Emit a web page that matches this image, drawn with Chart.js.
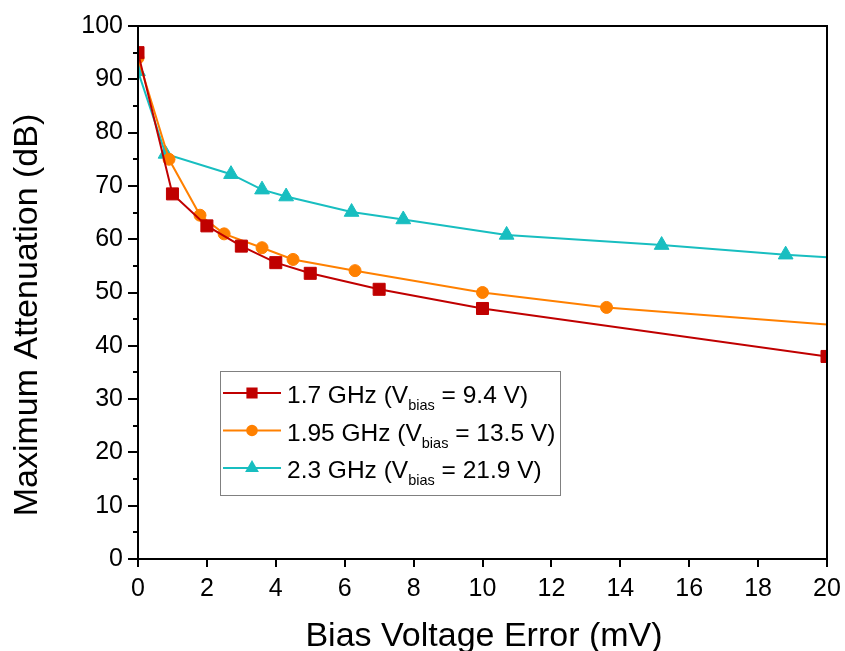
<!DOCTYPE html>
<html>
<head>
<meta charset="utf-8">
<script src="https://cdn.jsdelivr.net/npm/chart.js@4/dist/chart.umd.min.js"></script>
<style>
  html, body { margin: 0; padding: 0; background: #fff; }
</style>
</head>
<body>
<canvas id="graphCanvas" width="845" height="651"></canvas>
<script>
// 1.7 GHz (Vbias = 9.4 V)
const x17 = [0, 1, 2, 3, 4, 5, 7, 10, 20];
const y17 = [95, 68.5, 62.5, 58.7, 55.6, 53.6, 50.6, 47, 38];
// 1.95 GHz (Vbias = 13.5 V)
const x195 = [0, 0.9, 1.8, 2.5, 3.6, 4.5, 6.3, 10, 13.6, 20];
const y195 = [94, 75, 64.5, 61, 58.4, 56.2, 54.1, 50, 47.2, 44];
// 2.3 GHz (Vbias = 21.9 V)
const x23 = [0, 0.8, 2.7, 3.6, 4.3, 6.2, 7.7, 10.7, 15.2, 18.8, 20];
const y23 = [91.5, 76, 72.2, 69.3, 68, 65.1, 63.7, 60.8, 58.9, 57.1, 56.6];

const seriesNames = ["1.7 GHz (V", "1.95 GHz (V", "2.3 GHz (V"];
const biasVolts = ["9.4", "13.5", "21.9"];
const xTitle = "Bias Voltage Error (mV)";
const yTitle = "Maximum Attenuation (dB)";

const FONT = '"Liberation Sans", Arial, sans-serif';

function toPoints(xs, ys) {
  return xs.map((x, i) => ({ x: x, y: ys[i] }));
}

// 端点(20)にはマーカーが無い系列がある
function radii(n, r, lastHidden) {
  const arr = new Array(n).fill(r);
  if (lastHidden) arr[n - 1] = 0;
  return arr;
}

const datasets = [
  {
    label: seriesNames[0],
    data: toPoints(x17, y17),
    borderColor: "rgb(192, 0, 0)",
    backgroundColor: "rgb(192, 0, 0)",
    pointStyle: "rect",
    pointRadius: 8.5,
    legendRadius: 6.5,
  },
  {
    label: seriesNames[1],
    data: toPoints(x195, y195),
    borderColor: "rgb(255, 128, 0)",
    backgroundColor: "rgb(255, 128, 0)",
    pointStyle: "circle",
    pointRadius: radii(x195.length, 6, true),
    legendRadius: 4.8,
  },
  {
    label: seriesNames[2],
    data: toPoints(x23, y23),
    borderColor: "rgb(24, 190, 192)",
    backgroundColor: "rgb(24, 190, 192)",
    pointStyle: "triangle",
    pointRadius: radii(x23.length, 8.5, true),
    legendRadius: 6,
  },
];
datasets.forEach((d) => {
  d.showLine = true;
  d.borderWidth = 2;
  d.pointBorderWidth = 1;
  d.pointHoverRadius = d.pointRadius;
  d.fill = false;
});

// 枠・副目盛・軸タイトル・凡例
const decor = {
  id: "decor",
  afterDatasetsDraw(chart) {
    const ctx = chart.ctx;
    const a = chart.chartArea;
    const ys = chart.scales.y;
    ctx.save();
    ctx.strokeStyle = "#000";
    ctx.lineWidth = 2;
    ctx.strokeRect(a.left, a.top, a.right - a.left, a.bottom - a.top);
    ctx.beginPath();
    for (let v = 5; v < 100; v += 10) {
      const py = Math.round(ys.getPixelForValue(v));
      ctx.moveTo(a.left - 5, py);
      ctx.lineTo(a.left, py);
    }
    ctx.stroke();
    ctx.restore();
  },
  afterDraw(chart) {
    const ctx = chart.ctx;
    ctx.save();
    ctx.fillStyle = "#000";
    ctx.font = "34px " + FONT;
    ctx.textAlign = "center";
    ctx.textBaseline = "alphabetic";
    ctx.fillText(xTitle, 484, 646);
    ctx.translate(37, 315);
    ctx.rotate(-Math.PI / 2);
    ctx.fillText(yTitle, 0, 0);
    ctx.restore();

    // 凡例
    ctx.save();
    ctx.fillStyle = "#fff";
    ctx.fillRect(220, 372, 341, 124);
    ctx.strokeStyle = "#808080";
    ctx.lineWidth = 1;
    ctx.strokeRect(220.5, 371.5, 340, 124);
    chart.data.datasets.forEach((d, i) => {
      const cy = 393 + i * 37.5;
      ctx.strokeStyle = d.borderColor;
      ctx.fillStyle = d.backgroundColor;
      ctx.lineWidth = 2;
      ctx.beginPath();
      ctx.moveTo(223, cy);
      ctx.lineTo(281, cy);
      ctx.stroke();
      Chart.helpers.drawPoint(ctx, {
        pointStyle: d.pointStyle,
        radius: d.legendRadius,
        rotation: 0,
        borderWidth: 1,
      }, 252, cy);

      ctx.fillStyle = "#000";
      ctx.textAlign = "left";
      ctx.textBaseline = "alphabetic";
      const base = cy + 10;
      let tx = 287;
      ctx.font = "24.5px " + FONT;
      ctx.fillText(d.label, tx, base);
      tx += ctx.measureText(d.label).width;
      ctx.font = "14.5px " + FONT;
      ctx.fillText("bias", tx, base + 7);
      tx += ctx.measureText("bias").width;
      ctx.font = "24.5px " + FONT;
      ctx.fillText(" = " + biasVolts[i] + " V)", tx, base);
    });
    ctx.restore();
  },
};

const ctx = document.getElementById("graphCanvas").getContext("2d");
new Chart(ctx, {
  type: "scatter",
  data: { datasets: datasets },
  options: {
    responsive: false,
    animation: false,
    layout: { padding: { top: 26, right: 18, left: 0, bottom: 0 } },
    plugins: {
      legend: { display: false },
      tooltip: { enabled: false },
      title: { display: false },
    },
    scales: {
      x: {
        type: "linear",
        min: 0,
        max: 20,
        ticks: {
          stepSize: 2,
          color: "#000",
          padding: 7,
          font: { size: 25, family: FONT },
        },
        grid: {
          drawOnChartArea: false,
          tickLength: 8,
          color: "#000",
          lineWidth: 2,
        },
        border: { display: false },
        afterFit: (s) => {
          s.height = 92;
          s.paddingLeft = 0;
          s.paddingRight = 0;
        },
      },
      y: {
        min: 0,
        max: 100,
        ticks: {
          stepSize: 10,
          color: "#000",
          padding: 5,
          font: { size: 25, family: FONT },
        },
        grid: {
          drawOnChartArea: false,
          tickLength: 10,
          color: "#000",
          lineWidth: 2,
        },
        border: { display: false },
        afterFit: (s) => {
          s.width = 138;
          s.paddingTop = 0;
          s.paddingBottom = 0;
        },
      },
    },
  },
  plugins: [decor],
});
</script>
</body>
</html>
